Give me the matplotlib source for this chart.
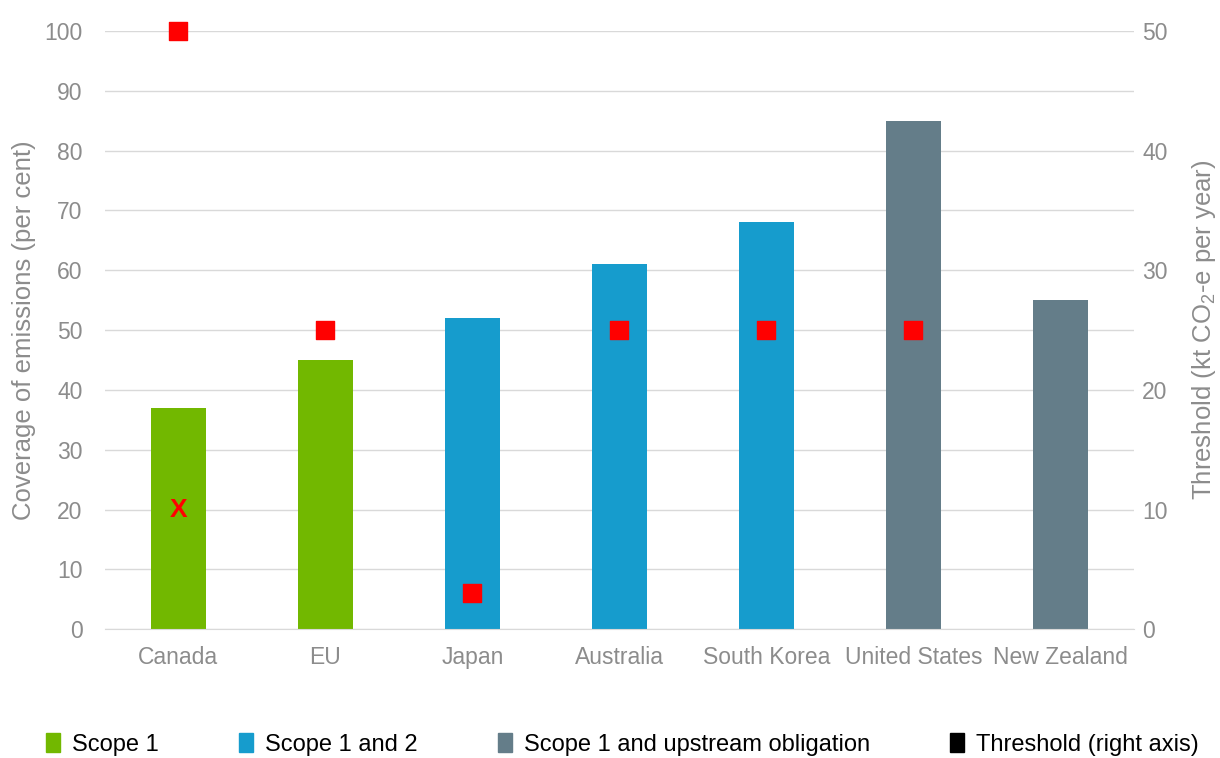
import numpy as np
import matplotlib.pyplot as plt
from matplotlib.patches import Patch

plt.rcParams['font.family'] = ['Liberation Sans', 'DejaVu Sans']
plt.rcParams['mathtext.fontset'] = 'custom'
plt.rcParams['mathtext.rm'] = 'Liberation Sans'
plt.rcParams['mathtext.it'] = 'Liberation Sans'

countries = ['Canada', 'EU', 'Japan', 'Australia', 'South Korea', 'United States', 'New Zealand']
coverage = [37, 45, 52, 61, 68, 85, 55]
scope = ['Scope 1', 'Scope 1', 'Scope 1 and 2', 'Scope 1 and 2', 'Scope 1 and 2',
         'Scope 1 and upstream obligation', 'Scope 1 and upstream obligation']
threshold = [50, 25, 3, 25, 25, 25, np.nan]
# Canada also has a red "X" marked on the right axis
x_mark_country = 'Canada'
x_mark_value = 10

scope_colors = {'Scope 1': '#72b800',
                'Scope 1 and 2': '#169ccd',
                'Scope 1 and upstream obligation': '#647d89'}
grey = '#8c8c8c'

fig = plt.figure(figsize=(12.2, 7.58), dpi=100)
ax = fig.add_axes([0.086, 0.170, 0.8435, 0.789])
ax2 = ax.twinx()

x = np.arange(len(countries))
ax.bar(x, coverage, width=0.375, color=[scope_colors[s] for s in scope], zorder=2)
ax.set_xlim(-0.5, len(countries) - 0.5)
ax.set_ylim(0, 100)
ax.set_yticks(np.arange(0, 101, 10))
ax.grid(axis='y', color='#d9d9d9', linewidth=1, zorder=0)
ax.set_axisbelow(True)
ax.set_xticks(x)
ax.set_xticklabels(countries)
ax.set_ylabel('Coverage of emissions (per cent)', color=grey, fontsize=18.5, labelpad=6)

ax2.scatter(x, threshold, marker='s', s=150, color='#ff0000', zorder=3, clip_on=False)
ax2.text(countries.index(x_mark_country), x_mark_value, 'X', color='#ff0000',
         fontsize=19, fontweight='bold', ha='center', va='center')
ax2.set_ylim(0, 50)
ax2.set_yticks(np.arange(0, 51, 10))
ax2.set_ylabel('Threshold (kt CO$_2$-e per year)', color=grey, fontsize=18.5, labelpad=16)

for a in (ax, ax2):
    for s in a.spines.values():
        s.set_visible(False)
    a.tick_params(colors=grey, labelsize=16.5, length=0)
ax.spines['bottom'].set_visible(True)
ax.spines['bottom'].set_color('#d9d9d9')
ax.tick_params(axis='y', pad=16)
ax.tick_params(axis='x', pad=12)
ax2.tick_params(axis='y', pad=6)

handles = [Patch(color=scope_colors[k]) for k in scope_colors]
handles.append(Patch(color='black'))
labels = list(scope_colors) + ['Threshold (right axis)']
fig.legend(handles, labels, loc='lower center', ncol=4, frameon=False, fontsize=17,
           bbox_to_anchor=(0.51, -0.025), handlelength=0.6, handleheight=0.9,
           handletextpad=0.5, columnspacing=3.4)

fig.savefig('out.png', dpi=100)
